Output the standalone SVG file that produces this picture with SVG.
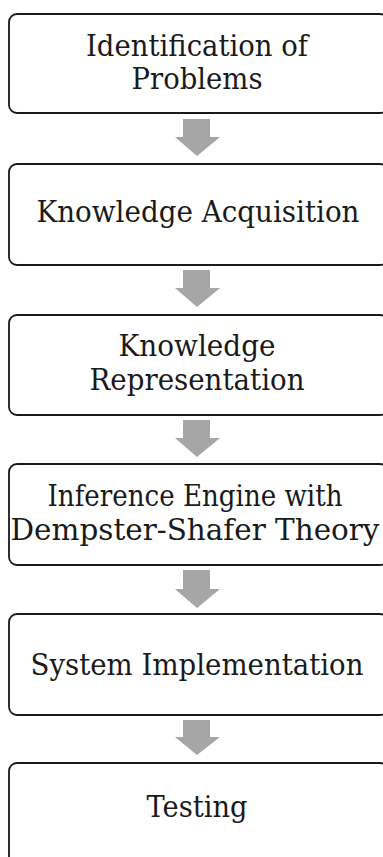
<svg xmlns="http://www.w3.org/2000/svg" width="383" height="857" viewBox="0 0 383 857">
<style>
.box{fill:#fff;stroke:#1a1a1a;stroke-width:1.8}
.lbl{font-family:"DejaVu Serif","Liberation Serif",serif;font-size:29px;fill:#1a1a1a;text-anchor:middle}
.arr{fill:#a6a6a6}
</style>
<rect width="383" height="857" fill="#fff"/>
<g id="connectors">
<polygon class="arr" points="183,119 210,119 210,137 220,137 197,156 175,137 183,137"/>
<polygon class="arr" points="183,270 210,270 210,288 220,288 197,307 175,288 183,288"/>
<polygon class="arr" points="183,420 210,420 210,438 220,438 197,457 175,438 183,438"/>
<polygon class="arr" points="183,570 210,570 210,589 220,589 197,608 175,589 183,589"/>
<polygon class="arr" points="183,720 210,720 210,737 220,737 197,755 175,737 183,737"/>
</g>
<g id="node1">
<rect class="box" x="9" y="14" width="379" height="99" rx="8"/>
<text class="lbl" x="197" y="56" textLength="222" lengthAdjust="spacingAndGlyphs">Identification of</text>
<text class="lbl" x="197" y="89" textLength="131" lengthAdjust="spacingAndGlyphs">Problems</text>
</g>
<g id="node2">
<rect class="box" x="9" y="164" width="379" height="101" rx="8"/>
<text class="lbl" x="198" y="222" textLength="323" lengthAdjust="spacingAndGlyphs">Knowledge Acquisition</text>
</g>
<g id="node3">
<rect class="box" x="9" y="315" width="379" height="100" rx="8"/>
<text class="lbl" x="197" y="356" textLength="157" lengthAdjust="spacingAndGlyphs">Knowledge</text>
<text class="lbl" x="197" y="390" textLength="215" lengthAdjust="spacingAndGlyphs">Representation</text>
</g>
<g id="node4">
<rect class="box" x="9" y="464" width="379" height="101" rx="8"/>
<text class="lbl" x="195" y="506" textLength="295" lengthAdjust="spacingAndGlyphs">Inference Engine with</text>
<text class="lbl" x="195" y="540" textLength="369" lengthAdjust="spacingAndGlyphs">Dempster-Shafer Theory</text>
</g>
<g id="node5">
<rect class="box" x="9" y="614" width="379" height="101" rx="8"/>
<text class="lbl" x="197" y="675" textLength="333" lengthAdjust="spacingAndGlyphs">System Implementation</text>
</g>
<g id="node6">
<rect class="box" x="9" y="763" width="379" height="110" rx="8"/>
<text class="lbl" x="197" y="817" textLength="101" lengthAdjust="spacingAndGlyphs">Testing</text>
</g>
</svg>
